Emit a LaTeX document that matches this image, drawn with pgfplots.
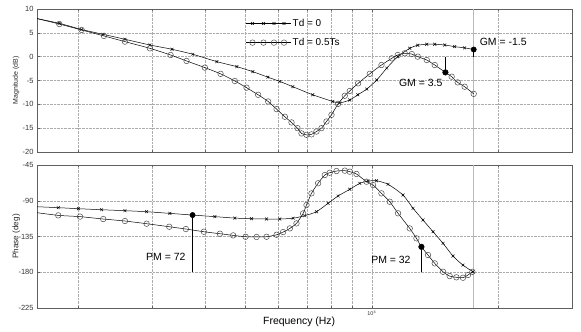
\documentclass[border=0pt]{standalone}
\usepackage{fontspec}
\setmainfont{Liberation Sans}
\usepackage{pgfplots}
\usepackage{pgfplotstable}
\pgfplotsset{compat=1.18}

\pgfplotsset{every axis/.append style={
    xmode=log, scale only axis, width=535bp, height=143bp,
    xmin=1594, xmax=30000,
    xtick={10000}, minor xtick={2000,3000,4000,5000,6000,7000,8000,9000,20000},
    xmajorgrids, xminorgrids, ymajorgrids,
    grid style={densely dotted, gray!65, line width=0.4pt},
    minor grid style={densely dotted, gray!65, line width=0.4pt},
    axis line style={gray!75!black, line width=0.5pt},
    tick style={gray!75!black, line width=0.4pt},
    tick align=inside, major tick length=2.5bp, minor tick length=2bp,
    ticklabel style={font=\fontsize{7.5}{8}\selectfont, text=black!80},
    /pgf/number format/assume math mode=true,
}}

\pgfplotstableread{
f m
1592 8.0
1801 7.0
2036 5.7
2288 4.7
2582 3.65
2961 2.45
3342 1.55
3748 0.5
4276 -1.05
4771 -2.1
5208 -3.15
5655 -4.3
6039 -5.2
6485 -6.3
7236 -8.0
8074 -9.4
8390 -9.7
8862 -9.1
9262 -8.0
9730 -6.8
10278 -4.9
10857 -2.4
11532 0
12316 1.75
12869 2.4
13520 2.6
14125 2.6
14922 2.45
15760 2.1
16645 1.85
17493 1.5
}\magA

\pgfplotstableread{
f m
1592 8.0
1801 6.85
2036 5.6
2301 4.35
2582 3.15
2961 1.75
3317 0.35
3621 -0.9
4003 -2.3
4363 -3.6
4718 -5.1
5031 -6.5
5362 -8.0
5664 -9.4
5932 -11.0
6207 -12.6
6439 -13.8
6654 -15.0
6801 -16.1
6990 -16.4
7184 -16.3
7384 -15.7
7590 -15.0
7801 -13.6
8017 -12.2
8314 -9.9
8624 -8.2
8862 -7.2
9277 -5.6
9890 -3.6
10546 -1.75
11158 -0.35
11532 0.35
11983 0.7
12451 0.55
12869 0.0
13520 -0.7
14125 -1.75
14980 -3.3
15502 -4.2
16025 -5.4
16645 -6.3
17493 -7.8
}\magB

\pgfplotstableread{
f p
1592 -97.5
1791 -98.7
2000 -100
2272 -101.3
2582 -102.5
2908 -103.8
3304 -105.9
3742 -108
4229 -110
4718 -111.8
5171 -112.6
5614 -113
6039 -113
6495 -112
6926 -108.8
7384 -103.8
7870 -93.2
8314 -84
8862 -75.6
9363 -68.1
9799 -65.2
10261 -64.8
10935 -69.3
11870 -82.8
12544 -99.5
13246 -114.3
13996 -129
14785 -143.6
15614 -159.6
16492 -171
17425 -179.4
}\phA

\pgfplotstableread{
f p
1592 -105
1791 -108.4
2018 -110
2292 -113
2582 -115.5
2908 -118.9
3292 -122.7
3607 -125.6
3981 -129
4346 -131.5
4675 -133.6
5004 -135.3
5315 -135.6
5614 -135.3
5932 -132.8
6149 -129.4
6380 -124.8
6617 -118.5
6861 -106
6990 -95.4
7184 -80.7
7450 -68
7729 -57.6
7943 -54.7
8241 -52.6
8624 -52.1
8862 -53.4
9196 -56.3
9714 -66
10071 -70.2
10546 -80.7
11036 -91.2
11551 -105.8
12316 -124.8
12777 -137.3
13131 -148
13614 -158.3
14125 -168.8
14785 -179.4
15333 -184.8
15908 -186.4
16492 -186.9
16950 -183.5
17369 -179.4
}\phB

\begin{document}
\begin{tikzpicture}
\path[use as bounding box] (0,0) rectangle (581bp,-332bp);

\begin{axis}[
  at={(37bp,-9bp)}, anchor=north west,
  ymin=-20, ymax=10, ytick={-20,-15,...,10},
  xticklabels={},
  ylabel={Magnitude (dB)},
  ylabel style={at={(axis description cs:-0.039,0.5)}, anchor=center, font=\fontsize{7}{8}\selectfont, text=black!85},
  legend style={at={(axis description cs:0.3907,0.945)}, anchor=north west, draw=none, fill=none,
    font=\fontsize{10}{12}\selectfont, row sep=6.5bp, inner sep=0pt},
  legend cell align=left,
  legend image code/.code={\draw[mark indices={2,3,4,5},#1] plot coordinates {(0bp,0bp) (6bp,0bp) (17bp,0bp) (27.5bp,0bp) (37.5bp,0bp) (44bp,0bp)};},
]
\addplot[gray!55, line width=1pt, forget plot] coordinates {(17500,-20) (17500,10)};
\addplot[black, line width=0.5pt, smooth, tension=0.4, mark=x, mark size=2pt, mark options={line width=0.5pt, black, solid}] table[x=f,y=m] {\magA};
\addlegendentry{Td = 0}
\addplot[black, line width=0.5pt, smooth, tension=0.4, mark=o, mark size=2.8pt, mark options={line width=0.5pt, draw=black!70, solid}] table[x=f,y=m] {\magB};
\addlegendentry{Td = 0.5Ts}
\addplot[black, line width=0.7pt, forget plot] coordinates {(17493,0) (17493,1.5)};
\addplot[only marks, mark=*, mark size=2.7pt, black, forget plot] coordinates {(17493,1.5)};
\addplot[black, line width=0.7pt, forget plot] coordinates {(14980,0) (14980,-3.3)};
\addplot[only marks, mark=*, mark size=2.7pt, black, forget plot] coordinates {(14980,-3.3)};
\node[anchor=west, font=\fontsize{10.5}{12}\selectfont, inner sep=0pt] at (axis cs:18072,3.15) {GM = -1.5};
\node[anchor=center, font=\fontsize{10.5}{12}\selectfont, inner sep=0pt] at (axis cs:13078,-5.5) {GM = 3.5};
\end{axis}

\begin{axis}[
  at={(37bp,-165bp)}, anchor=north west,
  ymin=-225, ymax=-45, ytick={-225,-180,-135,-90,-45},
  xticklabels={10\textsuperscript{4}},
  xticklabel style={font=\fontsize{5.5}{6}\selectfont, yshift=1bp},
  ylabel={Phase (deg)},
  ylabel style={at={(axis description cs:-0.039,0.5)}, anchor=center, font=\fontsize{8.2}{9}\selectfont, text=black!85},
  xlabel={Frequency (Hz)},
  xlabel style={at={(axis description cs:0.49,-0.098)}, anchor=center, font=\fontsize{10.5}{12}\selectfont},
]
\addplot[gray!55, line width=1pt, forget plot] coordinates {(17500,-225) (17500,-45)};
\addplot[black, line width=0.5pt, smooth, tension=0.4, mark=x, mark size=2pt, mark options={line width=0.5pt, black, solid}] table[x=f,y=p] {\phA};
\addplot[black, line width=0.5pt, smooth, tension=0.4, mark=o, mark size=2.8pt, mark options={line width=0.5pt, draw=black!70, solid}] table[x=f,y=p] {\phB};
\addplot[black, line width=0.7pt, forget plot] coordinates {(3742,-180) (3742,-108)};
\addplot[only marks, mark=*, mark size=2.7pt, black, forget plot] coordinates {(3742,-108)};
\addplot[black, line width=0.7pt, forget plot] coordinates {(13131,-180) (13131,-148)};
\addplot[only marks, mark=*, mark size=2.7pt, black, forget plot] coordinates {(13131,-148)};
\node[anchor=center, font=\fontsize{10.5}{12}\selectfont, inner sep=0pt] at (axis cs:3232,-160.5) {PM = 72};
\node[anchor=center, font=\fontsize{10.5}{12}\selectfont, inner sep=0pt] at (axis cs:11109,-164.6) {PM = 32};
\end{axis}
\end{tikzpicture}
\end{document}
